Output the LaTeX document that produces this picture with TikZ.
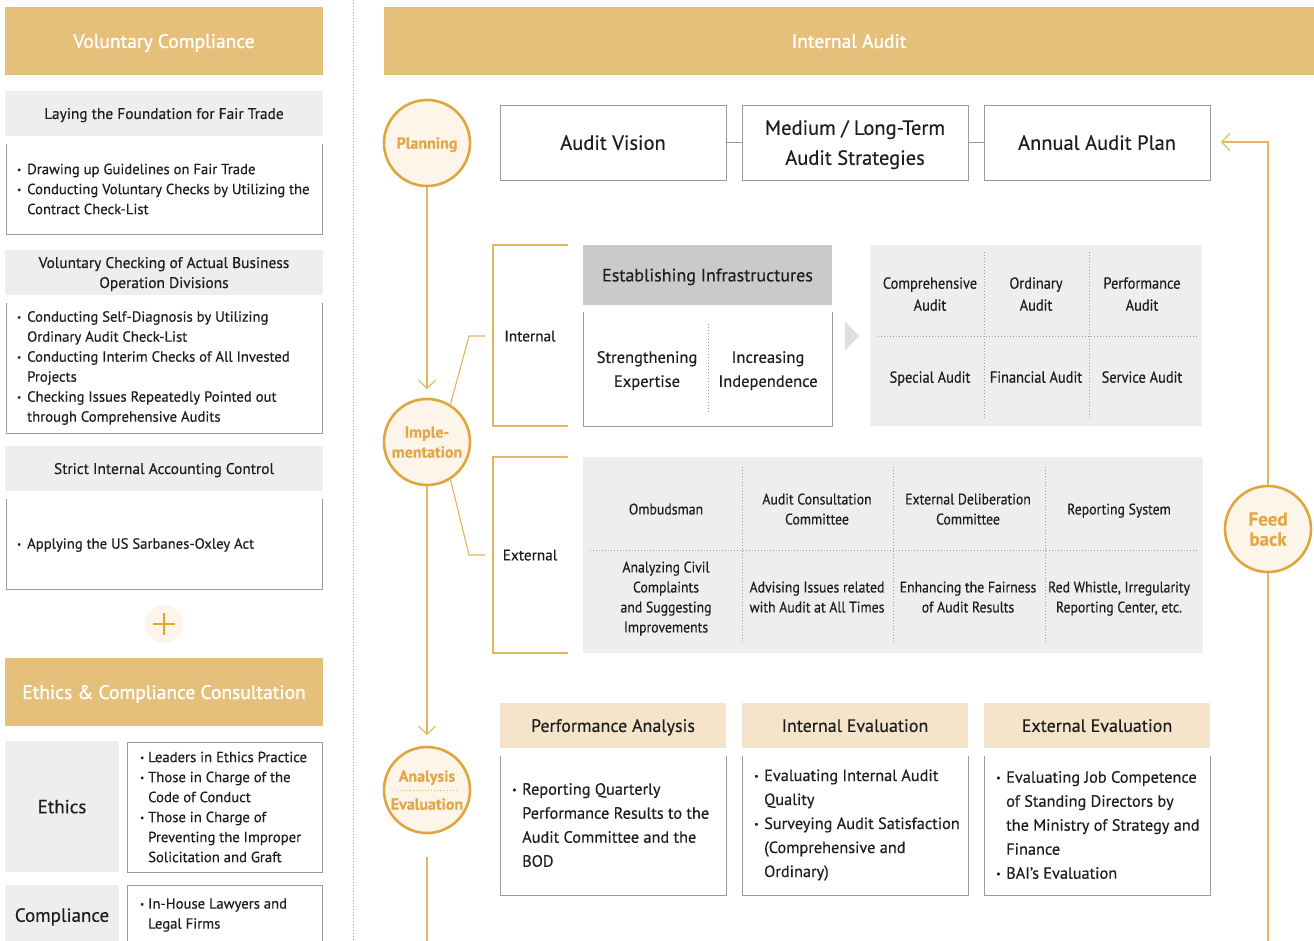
\documentclass[tikz,border=0pt]{standalone}
\usepackage{fontspec}
\setmainfont{PT Sans}[FakeBold=0.35]
\newfontfamily\condf{PT Sans}[FakeStretch=0.9,FakeBold=0.35]
\newfontfamily\headf{PT Sans}[FakeBold=1.2]
\usetikzlibrary{arrows.meta}
\definecolor{goldhead}{HTML}{E5C07B}
\definecolor{goldl}{HTML}{E6B55E}
\definecolor{circfill}{HTML}{FDF5EA}
\definecolor{circline}{HTML}{E0A63E}
\definecolor{goldtxt}{HTML}{E2A746}
\definecolor{grayhead}{HTML}{EEEEEE}
\definecolor{darkhead}{HTML}{C9CBCB}
\definecolor{beige}{HTML}{F5E4C9}
\definecolor{boxc}{HTML}{9A9A9A}
\definecolor{dotc}{HTML}{9A9A9A}
\definecolor{tri}{HTML}{DDDEDE}
\definecolor{plusfill}{HTML}{FDF5E9}
\definecolor{pluscol}{HTML}{E0A81E}
\definecolor{txtc}{HTML}{1E1E1E}
\newcommand{\bu}{\makebox[10pt][l]{\raisebox{0.2ex}{\scalebox{0.6}{\textbullet}}}}
\newcommand{\ind}{\hspace*{10pt}}
\newcommand{\bs}{\makebox[8pt][l]{\raisebox{0.2ex}{\scalebox{0.6}{\textbullet}}}}
\newcommand{\is}{\hspace*{8pt}}
\tikzset{
  tx/.style={text=txtc, inner sep=0pt, align=center, text depth=0pt},
  goldbox/.style={fill=goldhead, text=white, inner sep=0pt, text depth=0pt, font=\headf\fontsize{19.5}{22}\selectfont},
  graybox/.style={fill=grayhead, tx, font=\fontsize{15.4}{20}\selectfont},
  beigebox/.style={fill=beige, tx, font=\fontsize{18}{22}\selectfont, minimum width=226pt, minimum height=45pt},
  planbox/.style={draw=boxc, line width=0.8pt, tx, font=\fontsize{20.5}{30}\selectfont, minimum width=226pt, minimum height=75pt},
  boxl/.style={draw=boxc, line width=0.8pt},
  lst/.style={text=txtc, inner sep=0pt, align=left, anchor=west},
  l15/.style={lst, font=\fontsize{14.7}{20}\selectfont},
  l17/.style={lst, font=\fontsize{16.3}{24}\selectfont},
  c15/.style={tx, font=\condf\fontsize{16}{22}\selectfont},
  c15b/.style={tx, font=\condf\fontsize{15.3}{20}\selectfont},
  dotl/.style={draw=dotc, line width=0.8pt, dash pattern=on 0.8pt off 2.2pt},
  gline/.style={draw=goldl, line width=1.1pt},
  arr/.style={gline, -{Straight Barb[length=8pt,width=17pt,line width=1.1pt]}},
  phase/.style={circle, draw=circline, line width=2.6pt, fill=circfill, minimum size=86pt, inner sep=0pt, text=goldtxt, align=center, text depth=0pt, font=\bfseries\fontsize{16}{20}\selectfont},
}
\begin{document}
\begin{tikzpicture}[x=1pt,y=-1pt]
\useasboundingbox (0,0) rectangle (1314,940);
\fill[white] (0,0) rectangle (1314,940);

% ---------- left panel ----------
\node[goldbox, minimum width=318pt, minimum height=68pt] (vc) at (164,41) {Voluntary Compliance};
\node[graybox, minimum width=318pt, minimum height=45pt] (lf) at (164,113.5) {Laying the Foundation for Fair Trade};
\draw[boxl] (6,144) -- (6,234) -- (322,234) -- (322,144);
\node[l15] (lfl) at (17,189) {\bu Drawing up Guidelines on Fair Trade\\ \bu Conducting Voluntary Checks by Utilizing the\\ \ind Contract Check-List};

\node[graybox, minimum width=318pt, minimum height=45pt] (vcb) at (164,272.5) {Voluntary Checking of Actual Business\\Operation Divisions};
\draw[boxl] (6,303) -- (6,433) -- (322,433) -- (322,303);
\node[l15] (vcbl) at (17,368) {\bu Conducting Self-Diagnosis by Utilizing\\ \ind Ordinary Audit Check-List\\ \bu Conducting Interim Checks of All Invested\\ \ind Projects\\ \bu Checking Issues Repeatedly Pointed out\\ \ind through Comprehensive Audits};

\node[graybox, minimum width=318pt, minimum height=45pt] (sia) at (164,468.5) {Strict Internal Accounting Control};
\draw[boxl] (6,499) -- (6,589) -- (322,589) -- (322,499);
\node[l15] (sial) at (17,545) {\bu Applying the US Sarbanes-Oxley Act};

\node[circle, fill=plusfill, minimum size=38pt, inner sep=0pt] (plus) at (164,624) {};
\draw[pluscol, line width=2.6pt] ([xshift=-11pt]plus.center) -- ([xshift=11pt]plus.center);
\draw[pluscol, line width=2.6pt] ([yshift=-11pt]plus.center) -- ([yshift=11pt]plus.center);

\node[goldbox, minimum width=318pt, minimum height=68pt] (ecc) at (164,692) {Ethics \& Compliance Consultation};
\node[graybox, minimum width=114pt, minimum height=131pt, font=\fontsize{19}{22}\selectfont] (eth) at (62,806.5) {Ethics};
\node[boxl, minimum width=195pt, minimum height=130pt] (ethb) at (224.5,807) {};
\node[l15] (ethl) at (140,807) {\bs Leaders in Ethics Practice\\ \bs Those in Charge of the\\ \is Code of Conduct\\ \bs Those in Charge of\\ \is Preventing the Improper\\ \is Solicitation and Graft};
\node[graybox, minimum width=114pt, minimum height=60pt, font=\fontsize{19}{22}\selectfont] (comp) at (62,915) {Compliance};
\draw[boxl] (127,941) -- (127,885) -- (322,885) -- (322,941);
\node[l15] (compl) at (140,915) {\bs In-House Lawyers and\\ \is Legal Firms};

\draw[dotl] (353,0) -- (353,940);

% ---------- right panel ----------
\node[goldbox, minimum width=930pt, minimum height=68pt] (ia) at (849,41) {Internal Audit};

\node[phase] (plan) at (427,143) {Planning};
\node[phase] (impl) at (427,442) {Imple-\\mentation};
\node[phase] (anal) at (427,790) {Analysis\\[8pt]Evaluation};
\node[phase, font=\bfseries\fontsize{19}{20}\selectfont] (fb) at (1268,529) {Feed\\back};
\draw[gline, dotted, line width=0.9pt] (397,790) -- (459,790);

\coordinate (a1) at (427,389);
\coordinate (a2) at (427,735);
\coordinate (a3s) at (427,857);
\coordinate (a3e) at (427,941);
\draw[arr] (plan.south) -- (a1);
\draw[arr] (impl.south) -- (a2);
\draw[gline] (a3s) -- (a3e);

\node[planbox] (av) at (613,142.5) {Audit Vision};
\node[planbox] (ms) at (855,142.5) {Medium / Long-Term\\Audit Strategies};
\node[planbox] (aap) at (1097,142.5) {Annual Audit Plan};
\draw[boxl] (av.east) -- (ms.west);
\draw[boxl] (ms.east) -- (aap.west);

\coordinate (fbc) at (1268,142);
\coordinate (fbt) at (1221,142);
\coordinate (fbe) at (1268,941);
\draw[arr] (fb.north) -- (fbc) -- (fbt);
\draw[gline] (fb.south) -- (fbe);

% internal bracket
\draw[gline] (568,245) -- (493,245) -- (493,426) -- (568,426);
\node[tx, font=\fontsize{15.3}{20}\selectfont] (int) at (530,336) {Internal};
\coordinate (ik) at (469,336);
\coordinate (ie) at (485,336);
\draw[gline] (impl.58) -- (ik) -- (ie);

% external bracket
\draw[gline] (568,457) -- (493,457) -- (493,653) -- (568,653);
\node[tx, font=\fontsize{15.3}{20}\selectfont] (ext) at (530,555) {External};
\coordinate (ek) at (469,555);
\coordinate (ee) at (485,555);
\draw[gline] (impl.-58) -- (ek) -- (ee);

% establishing
\node[fill=darkhead, tx, minimum width=249pt, minimum height=60pt, font=\fontsize{18}{22}\selectfont] (est) at (707.5,275) {Establishing Infrastructures};
\draw[boxl] (583,312) -- (583,426) -- (832,426) -- (832,312);
\draw[dotl] (708,324) -- (708,414);
\node[tx, font=\fontsize{16.5}{24}\selectfont] (se) at (647,369) {Strengthening\\Expertise};
\node[tx, font=\fontsize{16.5}{24}\selectfont] (ii) at (768,369) {Increasing\\Independence};

\fill[tri] (845,322) -- (859,336) -- (845,350) -- cycle;

% audit types
\node[fill=grayhead, minimum width=332pt, minimum height=181pt, inner sep=0pt] (types) at (1036,335.5) {};
\draw[dotl] (984,252) -- (984,418);
\draw[dotl] (1089,252) -- (1089,418);
\draw[dotl] (878,336) -- (1197,336);
\node[c15] (t1) at (930,294) {Comprehensive\\Audit};
\node[c15] (t2) at (1036,294) {Ordinary\\Audit};
\node[c15] (t3) at (1142,294) {Performance\\Audit};
\node[c15] (t4) at (930,377) {Special Audit};
\node[c15] (t5) at (1036,377) {Financial Audit};
\node[c15] (t6) at (1142,377) {Service Audit};

% external grid
\node[fill=grayhead, minimum width=620pt, minimum height=196pt, inner sep=0pt] (xg) at (893,555) {};
\draw[dotl] (742,467) -- (742,643);
\draw[dotl] (893,467) -- (893,643);
\draw[dotl] (1045,467) -- (1045,643);
\draw[dotl] (590,550) -- (1197,550);
\node[c15b] (x1) at (666,509) {Ombudsman};
\node[c15b] (x2) at (817,509) {Audit Consultation\\Committee};
\node[c15b] (x3) at (968,509) {External Deliberation\\Committee};
\node[c15b] (x4) at (1119,509) {Reporting System};
\node[c15b] (y1) at (666,597) {Analyzing Civil\\Complaints\\and Suggesting\\Improvements};
\node[c15b] (y2) at (817,597) {Advising Issues related\\with Audit at All Times};
\node[c15b] (y3) at (968,597) {Enhancing the Fairness\\of Audit Results};
\node[c15b] (y4) at (1119,597) {Red Whistle, Irregularity\\Reporting Center, etc.};

% bottom row
\node[beigebox] (pa) at (613,725.5) {Performance Analysis};
\node[beigebox] (ie2) at (855,725.5) {Internal Evaluation};
\node[beigebox] (ee2) at (1097,725.5) {External Evaluation};
\draw[boxl] (500,756) -- (500,895) -- (726,895) -- (726,756);
\draw[boxl] (742,756) -- (742,895) -- (968,895) -- (968,756);
\draw[boxl] (984,756) -- (984,895) -- (1210,895) -- (1210,756);
\node[l17] (pal) at (512,825) {\bu Reporting Quarterly\\ \ind Performance Results to the\\ \ind Audit Committee and the\\ \ind BOD};
\node[l17] (iel) at (754,825) {\bu Evaluating Internal Audit\\ \ind Quality\\ \bu Surveying Audit Satisfaction\\ \ind (Comprehensive and\\ \ind Ordinary)};
\node[l17] (eel) at (996,825) {\bu Evaluating Job Competence\\ \ind of Standing Directors by\\ \ind the Ministry of Strategy and\\ \ind Finance\\ \bu BAI’s Evaluation};
\end{tikzpicture}
\end{document}
